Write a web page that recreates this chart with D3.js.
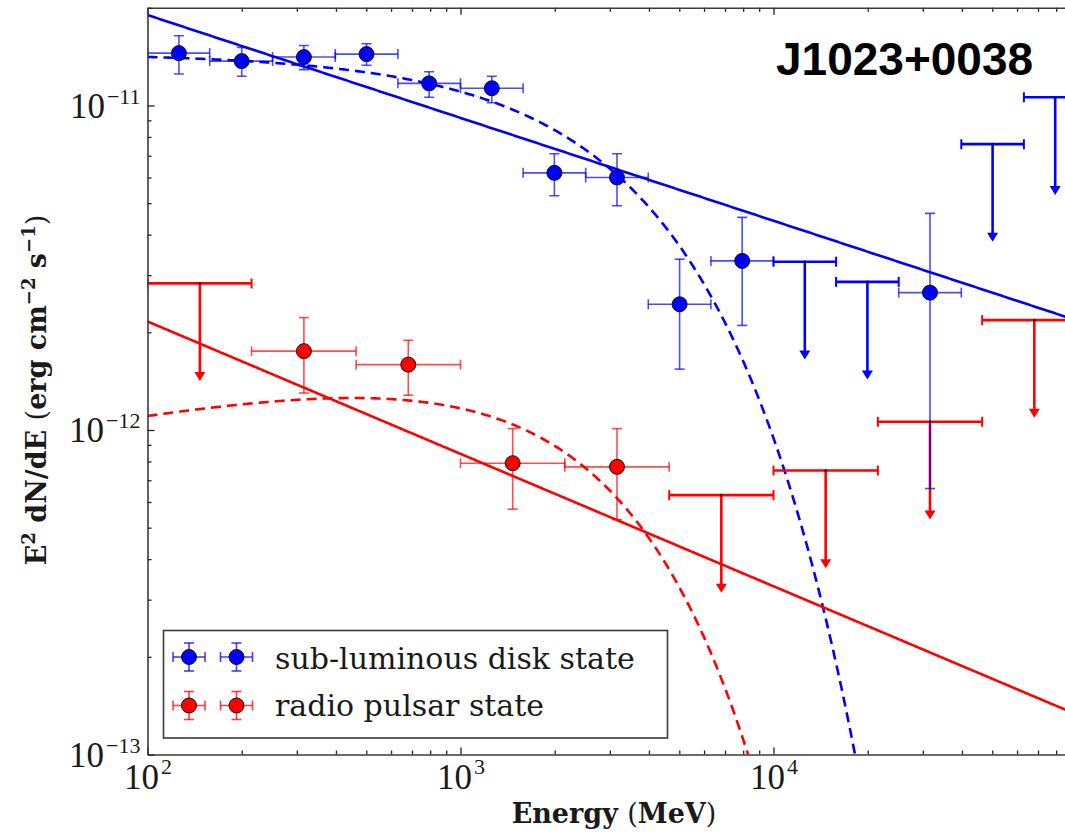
<!DOCTYPE html>
<html>
<head>
<meta charset="utf-8">
<script src="https://cdn.jsdelivr.net/npm/d3@7"></script>
<style>
  html, body { margin: 0; padding: 0; background: #fff; }
  svg { display: block; }
</style>
</head>
<body>
<svg id="chart" width="1065" height="836"></svg>
<script>
// ---- Sub-luminous disk state: detected bins (MeV, erg cm^-2 s^-1) ----
const diskE    = [126, 200, 316, 501, 794, 1259, 1995, 3162, 5012, 7943, 31623];
const diskELo  = [100, 158, 251, 398, 631, 1000, 1585, 2512, 3981, 6310, 25119];
const diskEHi  = [158, 251, 398, 631, 1000, 1585, 2512, 3981, 6310, 10000, 39811];
const diskFlux = [1.45e-11, 1.37e-11, 1.41e-11, 1.44e-11, 1.17e-11, 1.13e-11, 6.2e-12, 6.0e-12, 2.44e-12, 3.32e-12, 2.65e-12];
const diskFluxHi = [1.64e-11, 1.51e-11, 1.53e-11, 1.55e-11, 1.27e-11, 1.23e-11, 7.1e-12, 7.1e-12, 3.36e-12, 4.52e-12, 4.65e-12];
const diskFluxLo = [1.25e-11, 1.23e-11, 1.29e-11, 1.33e-11, 1.06e-11, 1.02e-11, 5.27e-12, 4.91e-12, 1.54e-12, 2.10e-12, 6.6e-13];

// ---- Sub-luminous disk state: upper limits ----
const diskUlE   = [12589, 19953, 50119, 79433];
const diskUlELo = [10000, 15849, 39811, 63096];
const diskUlEHi = [15849, 25119, 63096, 100000];
const diskUl    = [3.30e-12, 2.86e-12, 7.6e-12, 1.06e-11];

// ---- Radio pulsar state: detected bins ----
const psrE    = [316, 681, 1468, 3162];
const psrELo  = [215, 464, 1000, 2154];
const psrEHi  = [464, 1000, 2154, 4642];
const psrFlux = [1.75e-12, 1.59e-12, 7.9e-13, 7.7e-13];
const psrFluxHi = [2.22e-12, 1.89e-12, 1.01e-12, 1.01e-12];
const psrFluxLo = [1.30e-12, 1.28e-12, 5.7e-13, 5.3e-13];

// ---- Radio pulsar state: upper limits ----
const psrUlE   = [147, 6813, 14678, 31623, 68129];
const psrUlELo = [100, 4642, 10000, 21544, 46416];
const psrUlEHi = [215, 10000, 21544, 46416, 100000];
const psrUl    = [2.83e-12, 6.3e-13, 7.5e-13, 1.06e-12, 2.18e-12];

// ---- Spectral models: [norm at 100 MeV, photon index, cutoff MeV] ----
const diskPowerLaw = [1.90e-11, 2.317];
const diskCutoff   = [1.45e-11, 2.0, 3660];
const psrPowerLaw  = [2.16e-12, 2.408];
const psrCutoff    = [1.148e-12, 1.825, 2580];

// ---- Axis ticks ----
const xMajor = [1e2, 1e3, 1e4];
const yMajor = [1e-13, 1e-12, 1e-11];
const legendLabels = ["sub-luminous disk state", "radio pulsar state"];
const sourceName = "J1023+0038";

const BLUE = "#0000ff", RED = "#ff0000";
const svg = d3.select("#chart");
const plot = { left: 147.5, right: 1086.5, top: 7.8, bottom: 754.5 };

const x = d3.scaleLog().domain([1e2, 1e5]).range([plot.left, plot.right]);
const y = d3.scaleLog().domain([1e-13, 2e-11]).range([plot.bottom, plot.top]);

const minorOf = (majors, lastMax) => {
  const out = [];
  majors.forEach(m => { for (let k = 2; k <= 9; k++) { const v = m * k; if (v <= lastMax * 1.0001) out.push(v); } });
  return out;
};
const xMinor = minorOf(xMajor, 9e4);
const yMinor = minorOf(yMajor, 2e-11);

svg.append("defs").append("clipPath").attr("id", "plotClip")
  .append("rect")
  .attr("x", plot.left).attr("y", plot.top)
  .attr("width", plot.right - plot.left).attr("height", plot.bottom - plot.top);

// ---- Model curves ----
const energies = d3.range(0, 601).map(i => 100 * Math.pow(10, i * 3 / 600));
const pl = ([n0, g]) => E => n0 * Math.pow(E / 100, 2 - g);
const cpl = ([n0, g, ec]) => E => n0 * Math.pow(E / 100, 2 - g) * Math.exp(-E / ec);
const line = f => d3.line().x(E => x(E)).y(E => y(Math.max(f(E), 1e-16)))(energies);

const models = svg.append("g").attr("clip-path", "url(#plotClip)").attr("fill", "none");
models.append("path").attr("d", line(cpl(diskCutoff))).attr("stroke", BLUE)
  .attr("stroke-width", 2.6).attr("stroke-dasharray", "10,6");
models.append("path").attr("d", line(cpl(psrCutoff))).attr("stroke", RED)
  .attr("stroke-width", 2.6).attr("stroke-dasharray", "10,6");
models.append("path").attr("d", line(pl(diskPowerLaw))).attr("stroke", BLUE).attr("stroke-width", 2.6);
models.append("path").attr("d", line(pl(psrPowerLaw))).attr("stroke", RED).attr("stroke-width", 2.6);

// ---- Upper limits ----
function drawUpperLimits(g, E, lo, hi, ul, color) {
  E.forEach((e, i) => {
    const cx = x(e), yy = y(ul[i]), tip = y(ul[i] / 2);
    const grp = g.append("g").attr("stroke", color).attr("stroke-width", 2.6).attr("fill", color);
    grp.append("line").attr("x1", x(lo[i])).attr("x2", x(hi[i])).attr("y1", yy).attr("y2", yy);
    [lo[i], hi[i]].forEach(b => grp.append("line").attr("x1", x(b)).attr("x2", x(b))
      .attr("y1", yy - 5).attr("y2", yy + 5).attr("stroke-width", 2));
    grp.append("line").attr("x1", cx).attr("x2", cx).attr("y1", yy).attr("y2", tip - 8);
    grp.append("path").attr("stroke", "none")
      .attr("d", `M${cx - 5.5},${tip - 9}L${cx + 5.5},${tip - 9}L${cx},${tip}Z`);
    g.append("circle").attr("cx", cx).attr("cy", yy).attr("r", 1.3).attr("fill", "#111");
  });
}

// ---- Points with error bars ----
function drawPoints(g, E, lo, hi, f, fHi, fLo, color) {
  E.forEach((e, i) => {
    const cx = x(e), cy = y(f[i]);
    const eb = g.append("g").attr("stroke", color).attr("stroke-width", 1.6).attr("stroke-opacity", 0.7);
    eb.append("line").attr("x1", x(lo[i])).attr("x2", x(hi[i])).attr("y1", cy).attr("y2", cy);
    [lo[i], hi[i]].forEach(b => eb.append("line").attr("x1", x(b)).attr("x2", x(b)).attr("y1", cy - 5).attr("y2", cy + 5));
    eb.append("line").attr("x1", cx).attr("x2", cx).attr("y1", y(fHi[i])).attr("y2", y(fLo[i]));
    [fHi[i], fLo[i]].forEach(v => eb.append("line").attr("x1", cx - 5).attr("x2", cx + 5).attr("y1", y(v)).attr("y2", y(v)));
  });
  E.forEach((e, i) => {
    g.append("circle").attr("cx", x(e)).attr("cy", y(f[i])).attr("r", 7.5)
      .attr("fill", color).attr("stroke", "#111").attr("stroke-width", 1);
  });
}

const data = svg.append("g").attr("clip-path", "url(#plotClip)");
drawUpperLimits(data, diskUlE, diskUlELo, diskUlEHi, diskUl, BLUE);
drawUpperLimits(data, psrUlE, psrUlELo, psrUlEHi, psrUl, RED);
drawPoints(data, psrE, psrELo, psrEHi, psrFlux, psrFluxHi, psrFluxLo, RED);
drawPoints(data, diskE, diskELo, diskEHi, diskFlux, diskFluxHi, diskFluxLo, BLUE);

// ---- Axes ----
const AXIS_COLOR = "#3a3a3a";
const styleAxis = g => {
  g.select(".domain").attr("stroke", AXIS_COLOR).attr("stroke-width", 1.6);
  g.selectAll(".tick line").attr("stroke", "#222").attr("stroke-width", 1.3);
};
const expLabel = (sel, supDy) => {
  sel.each(function (d) {
    const t = d3.select(this).text(null);
    t.append("tspan").attr("font-size", 35).text("10");
    const p = Math.round(Math.log10(d));
    t.append("tspan").attr("font-size", 22).attr("dx", 2).attr("dy", supDy)
      .text(p < 0 ? "\u2212" + Math.abs(p) : String(p));
  });
};

const gBottomMinor = svg.append("g").attr("transform", `translate(0,${plot.bottom})`)
  .call(d3.axisBottom(x).tickValues(xMinor).tickSizeInner(-4).tickSizeOuter(0).tickFormat(""));
gBottomMinor.select(".domain").remove();
const gBottom = svg.append("g").attr("transform", `translate(0,${plot.bottom})`)
  .call(d3.axisBottom(x).tickValues(xMajor).tickSizeInner(-7).tickSizeOuter(0));
gBottom.selectAll(".tick text")
  .attr("y", 34.5).attr("dy", null).attr("text-anchor", "middle")
  .attr("font-family", "'Liberation Serif', 'Times New Roman', serif").attr("fill", "#1a1a1a")
  .call(expLabel, -15);

const gTopMinor = svg.append("g").attr("transform", `translate(0,${plot.top})`)
  .call(d3.axisTop(x).tickValues(xMinor).tickSizeInner(-4).tickSizeOuter(0).tickFormat(""));
gTopMinor.select(".domain").remove();
const gTop = svg.append("g").attr("transform", `translate(0,${plot.top})`)
  .call(d3.axisTop(x).tickValues(xMajor).tickSizeInner(-7).tickSizeOuter(0).tickFormat(""));

const gLeftMinor = svg.append("g").attr("transform", `translate(${plot.left},0)`)
  .call(d3.axisLeft(y).tickValues(yMinor).tickSizeInner(-4).tickSizeOuter(0).tickFormat(""));
gLeftMinor.select(".domain").remove();
const gLeft = svg.append("g").attr("transform", `translate(${plot.left},0)`)
  .call(d3.axisLeft(y).tickValues(yMajor).tickSizeInner(-7).tickSizeOuter(0));
gLeft.selectAll(".tick text")
  .attr("x", -7).attr("y", 11.7).attr("dy", null).attr("text-anchor", "end")
  .attr("font-family", "'Liberation Serif', 'Times New Roman', serif").attr("fill", "#1a1a1a")
  .call(expLabel, -14);

[gBottomMinor, gBottom, gTopMinor, gTop, gLeftMinor, gLeft].forEach(styleAxis);

// ---- Axis titles ----
const titleFont = "'DejaVu Serif', 'Liberation Serif', serif";
const xTitle = svg.append("text")
  .attr("x", 614).attr("y", 823).attr("text-anchor", "middle")
  .attr("font-family", titleFont).attr("font-size", 27).attr("font-weight", "bold").attr("fill", "#1a1a1a");
xTitle.append("tspan").text("Energy ");
xTitle.append("tspan").attr("font-weight", "normal").text("(");
xTitle.append("tspan").text("MeV");
xTitle.append("tspan").attr("font-weight", "normal").text(")");

const yTitle = svg.append("text")
  .attr("transform", "translate(46,390) rotate(-90)").attr("text-anchor", "middle")
  .attr("font-family", titleFont).attr("font-size", 27).attr("font-weight", "bold").attr("fill", "#1a1a1a");
[
  ["E", 0, null], ["2", -11, 18], [" dN/dE ", 11, null], ["(", 0, "normal"],
  ["erg cm", 0, null], ["\u22122", -11, 18], [" s", 11, null], ["\u22121", -11, 18], [")", 11, "normal"]
].forEach(([txt, dy, opt]) => {
  const ts = yTitle.append("tspan").attr("dy", dy).text(txt);
  if (opt === "normal") ts.attr("font-weight", "normal");
  else if (opt) ts.attr("font-size", opt);
});

// ---- Source name ----
svg.append("text")
  .attr("x", 776).attr("y", 75)
  .attr("font-family", "'Liberation Sans', Arial, sans-serif")
  .attr("font-size", 46).attr("font-weight", "bold").attr("fill", "#000")
  .text(sourceName);

// ---- Legend ----
const legend = svg.append("g");
legend.append("rect").attr("x", 163.5).attr("y", 630.5).attr("width", 504).attr("height", 107.5)
  .attr("fill", "#fff").attr("stroke", AXIS_COLOR).attr("stroke-width", 1.6);
const legendRows = [
  { label: legendLabels[0], color: BLUE, cy: 657, base: 669 },
  { label: legendLabels[1], color: RED,  cy: 705.5, base: 716 }
];
legendRows.forEach(r => {
  [189, 236.5].forEach(cx => {
    const eb = legend.append("g").attr("stroke", r.color).attr("stroke-width", 1.6).attr("stroke-opacity", 0.75);
    eb.append("line").attr("x1", cx - 16).attr("x2", cx + 16).attr("y1", r.cy).attr("y2", r.cy);
    [cx - 16, cx + 16].forEach(bx => eb.append("line").attr("x1", bx).attr("x2", bx).attr("y1", r.cy - 5).attr("y2", r.cy + 5));
    eb.append("line").attr("x1", cx).attr("x2", cx).attr("y1", r.cy - 14).attr("y2", r.cy + 14);
    [r.cy - 14, r.cy + 14].forEach(by => eb.append("line").attr("x1", cx - 5).attr("x2", cx + 5).attr("y1", by).attr("y2", by));
    legend.append("circle").attr("cx", cx).attr("cy", r.cy).attr("r", 7.5)
      .attr("fill", r.color).attr("stroke", "#111").attr("stroke-width", 1);
  });
  legend.append("text").attr("x", 275).attr("y", r.base)
    .attr("font-family", "'DejaVu Serif', 'Liberation Serif', serif").attr("font-size", 30)
    .attr("fill", "#1a1a1a").text(r.label);
});
</script>
</body>
</html>
